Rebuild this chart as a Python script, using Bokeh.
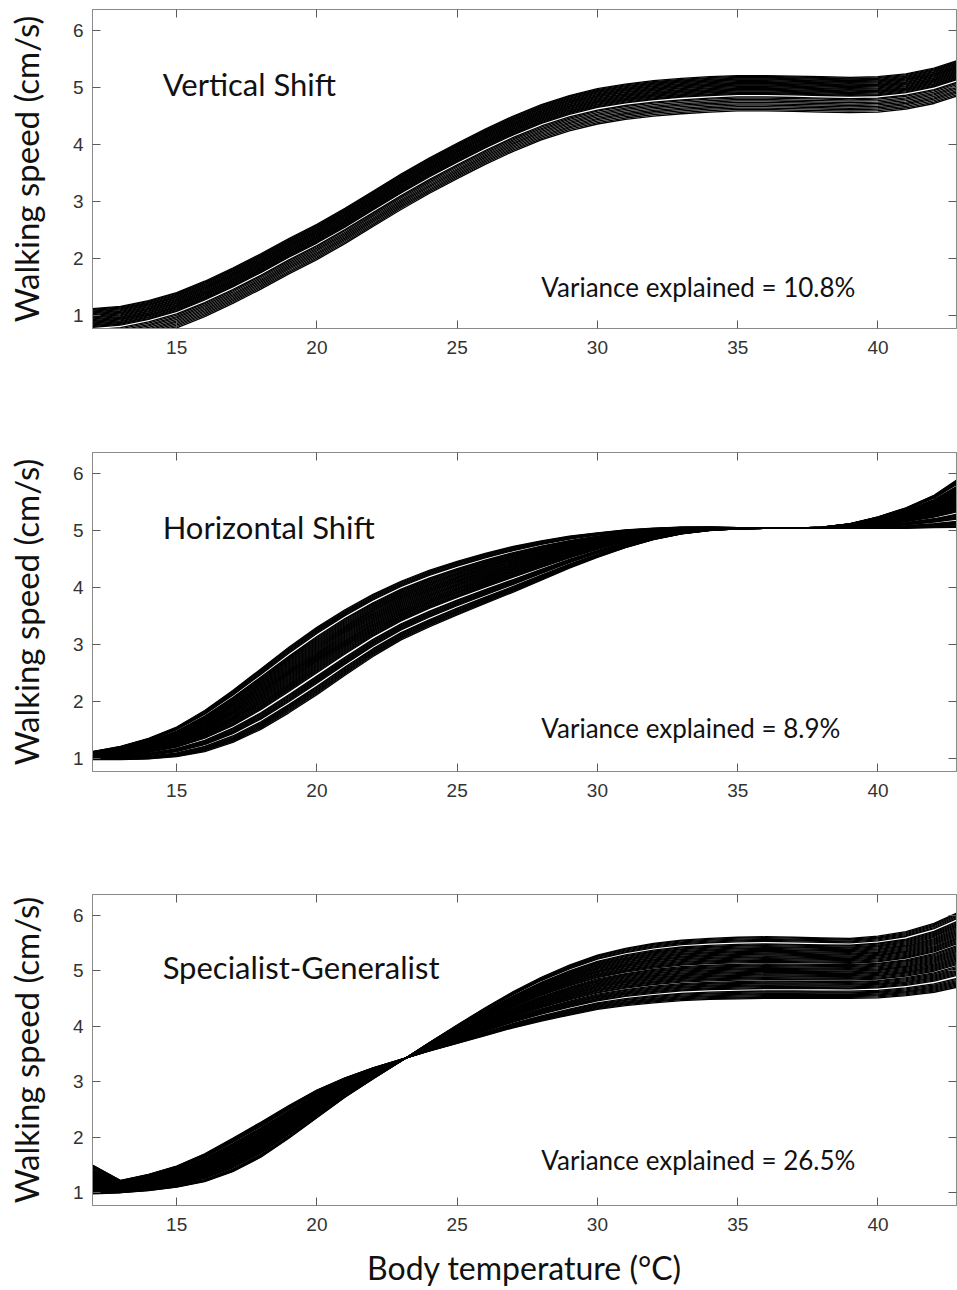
import numpy as np
from bokeh.plotting import figure
from bokeh.layouts import column
from bokeh.models import Range1d, LinearAxis, FixedTicker, Label
from bokeh.embed import file_html
from bokeh.resources import INLINE

# ---------------- data ----------------
temperature = [12, 13, 14, 15, 16, 17, 18, 19, 20, 21, 22, 23, 24, 25, 26, 27,
               28, 29, 30, 31, 32, 33, 34, 35, 36, 37, 38, 39, 40, 41, 42, 43]

# Panel 1: vertical shift -- top curve of the bundle and downward offsets
vertical_top = [1.12, 1.16, 1.26, 1.40, 1.60, 1.83, 2.08, 2.35, 2.60, 2.88, 3.18,
                3.48, 3.76, 4.02, 4.27, 4.50, 4.70, 4.86, 4.98, 5.06, 5.12, 5.16,
                5.19, 5.21, 5.21, 5.20, 5.19, 5.18, 5.19, 5.24, 5.34, 5.50]
vertical_offsets = [0.000, 0.015, 0.030, 0.045, 0.060, 0.075, 0.090, 0.105, 0.120,
                    0.135, 0.150, 0.165, 0.180, 0.195, 0.210, 0.225, 0.240, 0.255,
                    0.270, 0.285, 0.300, 0.315, 0.330, 0.375, 0.395, 0.420, 0.445,
                    0.470, 0.495, 0.520, 0.545, 0.570, 0.595, 0.620]

# Panel 2: horizontal shift -- earliest (upper) and latest (lower) curves
horizontal_upper = [1.12, 1.21, 1.35, 1.55, 1.84, 2.19, 2.57, 2.95, 3.30, 3.61, 3.88,
                    4.11, 4.30, 4.46, 4.60, 4.72, 4.82, 4.90, 4.96, 5.01, 5.04, 5.06,
                    5.06, 5.05, 5.04, 5.04, 5.06, 5.12, 5.24, 5.40, 5.62, 5.95]
horizontal_lower = [0.98, 0.98, 0.99, 1.03, 1.12, 1.28, 1.51, 1.80, 2.12, 2.46, 2.79,
                    3.08, 3.31, 3.52, 3.72, 3.92, 4.13, 4.34, 4.53, 4.70, 4.84, 4.94,
                    5.00, 5.03, 5.04, 5.04, 5.04, 5.04, 5.04, 5.04, 5.05, 5.06]
horizontal_weights = [1.000, 0.985, 0.970, 0.955, 0.940, 0.925, 0.910,
                      0.865, 0.850, 0.835, 0.820, 0.805, 0.790, 0.775, 0.760, 0.745,
                      0.730, 0.715, 0.700, 0.685, 0.670, 0.655, 0.640, 0.625, 0.610,
                      0.595, 0.580, 0.565, 0.550, 0.535, 0.520, 0.505, 0.490, 0.475,
                      0.460, 0.445, 0.430, 0.415, 0.400, 0.385, 0.370, 0.355, 0.340,
                      0.325,
                      0.275, 0.260, 0.245, 0.230, 0.215, 0.200, 0.185, 0.170,
                      0.125, 0.110, 0.095, 0.080, 0.065, 0.050, 0.035, 0.020, 0.000]

# Panel 3: specialist-generalist -- the two extreme curves
specialist_curve = [0.98, 1.00, 1.04, 1.10, 1.20, 1.38, 1.64, 1.98, 2.35, 2.72, 3.05,
                    3.37, 3.70, 4.02, 4.33, 4.62, 4.88, 5.10, 5.28, 5.40, 5.49, 5.55,
                    5.58, 5.60, 5.61, 5.60, 5.59, 5.58, 5.62, 5.70, 5.85, 6.08]
generalist_curve = [1.50, 1.22, 1.33, 1.48, 1.70, 1.98, 2.27, 2.57, 2.85, 3.07, 3.25,
                    3.40, 3.55, 3.69, 3.83, 3.97, 4.09, 4.20, 4.30, 4.37, 4.42, 4.46,
                    4.48, 4.49, 4.50, 4.50, 4.50, 4.50, 4.51, 4.55, 4.61, 4.72]
sg_weights = [1.000, 0.985, 0.970, 0.955, 0.940, 0.925,
              0.885, 0.870, 0.855, 0.840, 0.825, 0.810, 0.795, 0.780, 0.765, 0.750,
              0.735, 0.720, 0.705, 0.690, 0.675, 0.660, 0.645, 0.630, 0.615, 0.600,
              0.585,
              0.560, 0.545, 0.530, 0.515, 0.500, 0.485, 0.470, 0.455, 0.440, 0.425,
              0.410, 0.395, 0.380, 0.365, 0.350, 0.335, 0.320, 0.305,
              0.280, 0.265, 0.250, 0.235, 0.220, 0.205, 0.190, 0.175, 0.160,
              0.120, 0.105, 0.090, 0.075, 0.060, 0.045, 0.030, 0.015, 0.000]

panel_titles = ["Vertical Shift", "Horizontal Shift", "Specialist-Generalist"]
variance_texts = ["Variance explained = 10.8%", "Variance explained = 8.9%",
                  "Variance explained = 26.5%"]
x_ticks = [15, 20, 25, 30, 35, 40]
y_ticks = [1, 2, 3, 4, 5, 6]
y_label = "Walking speed (cm/s)"
x_label = "Body temperature (°C)"

# ---------------- build curve families ----------------
T = np.array(temperature, dtype=float)
vt = np.array(vertical_top)
fam1 = [vt - o for o in vertical_offsets]
hu, hl = np.array(horizontal_upper), np.array(horizontal_lower)
fam2 = [hl + w * (hu - hl) for w in horizontal_weights]
sa, gb = np.array(specialist_curve), np.array(generalist_curve)
fam3 = [gb + w * (sa - gb) for w in sg_weights]
families = [fam1, fam2, fam3]

AX_COL = "#8a8a8a"
TICK_COL = "#5a5a5a"
LBL_COL = "#333333"
TXT_FONT = "Lato"

def make_panel(i, height, btop, bbottom, show_xlabel, var_y):
    p = figure(width=957, height=height, x_range=Range1d(12, 42.8),
               y_range=Range1d(0.77, 6.37), output_backend="svg",
               toolbar_location=None, min_border_left=92, min_border_right=1,
               min_border_top=btop, min_border_bottom=bbottom)
    p.grid.visible = False
    p.outline_line_color = AX_COL
    p.background_fill_color = "white"
    p.border_fill_color = "white"

    fam = families[i]
    p.multi_line(xs=[list(T)] * len(fam), ys=[list(c) for c in fam],
                 line_color="black", line_width=1.3, line_join="round")

    for ax in (p.xaxis[0], p.yaxis[0]):
        ax.axis_line_color = AX_COL
        ax.major_tick_in = 8
        ax.major_tick_out = 0
        ax.major_tick_line_color = TICK_COL
        ax.minor_tick_in = 0
        ax.minor_tick_out = 0
        ax.major_label_text_font = "Liberation Sans"
        ax.major_label_text_font_size = "19px"
        ax.major_label_text_color = LBL_COL
    p.xaxis[0].ticker = FixedTicker(ticks=x_ticks)
    p.yaxis[0].ticker = FixedTicker(ticks=y_ticks)
    p.xaxis[0].major_label_standoff = 12
    p.yaxis[0].major_label_standoff = 9

    p.yaxis[0].axis_label = y_label
    p.yaxis[0].axis_label_text_font = TXT_FONT
    p.yaxis[0].axis_label_text_font_size = "33px"
    p.yaxis[0].axis_label_text_font_style = "normal"
    p.yaxis[0].axis_label_text_color = "#111111"
    p.yaxis[0].axis_label_standoff = 24

    if show_xlabel:
        p.xaxis[0].axis_label = x_label
        p.xaxis[0].axis_label_text_font = TXT_FONT
        p.xaxis[0].axis_label_text_font_size = "32px"
        p.xaxis[0].axis_label_text_font_style = "normal"
        p.xaxis[0].axis_label_text_color = "#111111"
        p.xaxis[0].axis_label_standoff = 14

    top = LinearAxis(ticker=FixedTicker(ticks=x_ticks), axis_line_color=AX_COL,
                     major_tick_in=8, major_tick_out=0, minor_tick_in=0,
                     minor_tick_out=0, major_tick_line_color=TICK_COL,
                     major_label_text_font_size="1px", major_label_text_color=None,
                     major_label_standoff=0)
    p.add_layout(top, "above")
    right = LinearAxis(ticker=FixedTicker(ticks=y_ticks), axis_line_color=AX_COL,
                       major_tick_in=8, major_tick_out=0, minor_tick_in=0,
                       minor_tick_out=0, major_tick_line_color=TICK_COL,
                       major_label_text_font_size="1px", major_label_text_color=None,
                       major_label_standoff=0)
    p.add_layout(right, "right")

    p.add_layout(Label(x=14.5, y=5.07, text=panel_titles[i], text_font=TXT_FONT,
                       text_font_size="31px", text_color="#111111",
                       text_baseline="alphabetic"))
    p.add_layout(Label(x=28.0, y=var_y, text=variance_texts[i], text_font=TXT_FONT,
                       text_font_size="26px", text_color="#111111",
                       text_baseline="alphabetic"))
    return p

p1 = make_panel(0, 448, 9, 120, False, 1.49)
p2 = make_panel(1, 441, 4, 118, False, 1.53)
p3 = make_panel(2, 400, 5, 76, True, 1.59)

layout = column(p1, p2, p3, spacing=0)
open("out.html", "w").write(file_html(layout, INLINE))
